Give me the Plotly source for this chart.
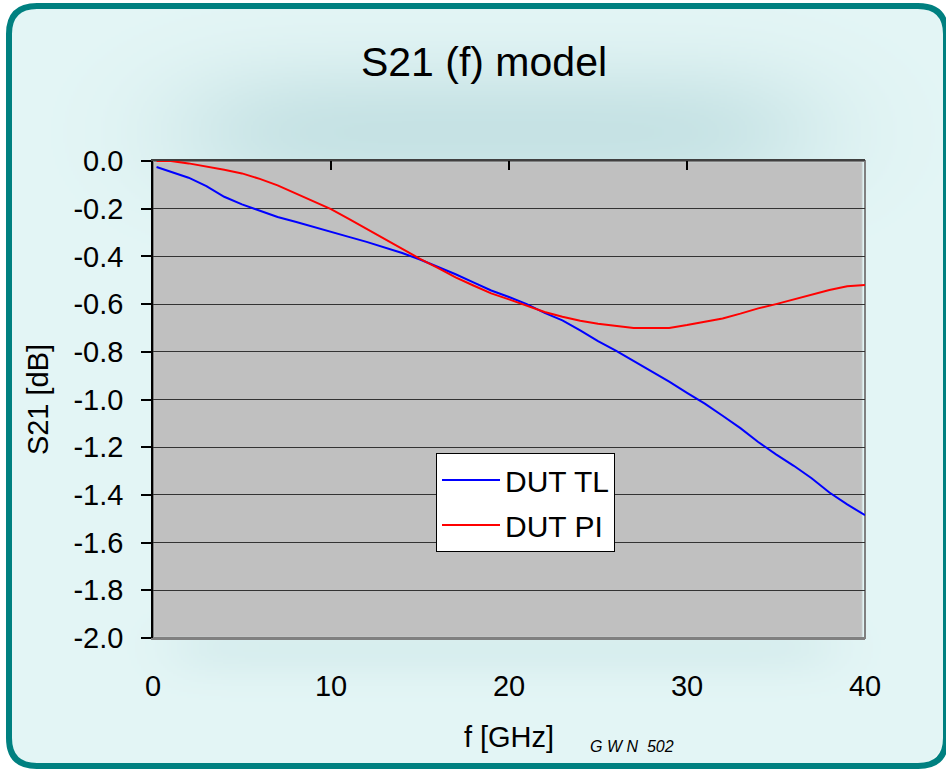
import base64
import math
import struct
import zlib

import numpy as np
import plotly.graph_objects as go

# ---- data ---------------------------------------------------------------
freq_ghz = [0.2, 1, 2, 3, 4, 5, 6, 7, 8, 9, 10, 11, 12, 13, 14, 15, 16, 17, 18, 19, 20,
            21, 22, 23, 24, 25, 26, 27, 28, 29, 30, 31, 32, 33, 34, 35, 36, 37, 38, 39, 40]

s21_tl_db = [-0.025, -0.045, -0.07, -0.105, -0.15, -0.182, -0.21, -0.235, -0.255, -0.275,
             -0.297, -0.318, -0.339, -0.362, -0.386, -0.413, -0.443, -0.475, -0.509, -0.543,
             -0.57, -0.60, -0.637, -0.668, -0.71, -0.755, -0.795, -0.838, -0.882, -0.925,
             -0.972, -1.017, -1.068, -1.12, -1.178, -1.23, -1.278, -1.33, -1.39, -1.44, -1.485]

s21_pi_db = [0.0, 0.0, -0.01, -0.022, -0.037, -0.052, -0.075, -0.102, -0.135, -0.168,
             -0.202, -0.243, -0.285, -0.325, -0.367, -0.41, -0.448, -0.488, -0.522, -0.555,
             -0.58, -0.607, -0.633, -0.653, -0.67, -0.682, -0.69, -0.70, -0.70, -0.70,
             -0.688, -0.675, -0.66, -0.64, -0.618, -0.60, -0.58, -0.56, -0.541, -0.525, -0.52]

x_tick_vals = [0, 10, 20, 30, 40]
y_tick_vals = [0.0, -0.2, -0.4, -0.6, -0.8, -1.0, -1.2, -1.4, -1.6, -1.8, -2.0]
y_tick_text = ["0.0", "-0.2", "-0.4", "-0.6", "-0.8", "-1.0", "-1.2", "-1.4", "-1.6", "-1.8", "-2.0"]

# ---- page geometry (pixels) ---------------------------------------------
W, H = 946, 769
PLOT_L, PLOT_R, PLOT_T, PLOT_B = 153, 865, 161, 638
FONT = "Liberation Sans, Arial, sans-serif"


def px(x):
    return x / W


def py(y):
    return 1 - y / H


# ---- soft tinted background with a haze behind the title ----------------
def png_data_uri(rgba):
    h, w, _ = rgba.shape
    raw = b"".join(b"\x00" + rgba[i].tobytes() for i in range(h))

    def chunk(tag, data):
        body = tag + data
        return struct.pack(">I", len(data)) + body + struct.pack(">I", zlib.crc32(body) & 0xFFFFFFFF)

    png = (b"\x89PNG\r\n\x1a\n"
           + chunk(b"IHDR", struct.pack(">IIBBBBB", w, h, 8, 6, 0, 0, 0))
           + chunk(b"IDAT", zlib.compress(raw, 9))
           + chunk(b"IEND", b""))
    return "data:image/png;base64," + base64.b64encode(png).decode()


verf = np.vectorize(math.erf)


def soft_box(c, a, b, s):
    k = s * math.sqrt(2)
    return 0.5 * (verf((c - a) / k) - verf((c - b) / k))


scale = 2
gw, gh = W // scale + 1, H // scale + 1
xs = (np.arange(gw) + 0.5) * scale
ys = (np.arange(gh) + 0.5) * scale
X, Y = np.meshgrid(xs, ys)

haze = (0.85 * soft_box(xs, 200, 800, 70)[None, :] * soft_box(ys, 85, 180, 40)[:, None]
        + 0.35 * soft_box(xs, 180, 830, 30)[None, :] * soft_box(ys, 628, 668, 18)[:, None])
haze = np.clip(haze, 0, 1)
base = np.array([227, 245, 245], float)
dark = np.array([182, 216, 219], float)
rgb = base[None, None, :] * (1 - haze[..., None]) + dark[None, None, :] * haze[..., None]

# rounded panel mask
fl, ft, fr, fb, rad = 9, 6, 946, 766, 28
cx = np.clip(X, fl + rad, fr - rad)
cy = np.clip(Y, ft + rad, fb - rad)
inside = ((X - cx) ** 2 + (Y - cy) ** 2 <= rad ** 2) & (X >= fl) & (X <= fr) & (Y >= ft) & (Y <= fb)
alpha = np.where(inside, 255, 0)
# leave the plotting area to the plot background
alpha = np.where((X > PLOT_L) & (X < PLOT_R) & (Y > PLOT_T) & (Y < PLOT_B), 0, alpha)

rgba = np.dstack([rgb, alpha]).round().astype(np.uint8)
bg_uri = png_data_uri(rgba)


# rounded frame outline
def frame_path(l, t, r, b, rr):
    pts = [
        ("M", (l + rr, t)), ("L", (r - rr, t)), ("Q", (r, t), (r, t + rr)),
        ("L", (r, b - rr)), ("Q", (r, b), (r - rr, b)), ("L", (l + rr, b)),
        ("Q", (l, b), (l, b - rr)), ("L", (l, t + rr)), ("Q", (l, t), (l + rr, t)),
    ]
    out = []
    for cmd, *ps in pts:
        out.append(cmd + " ".join(f"{px(p[0]):.5f},{py(p[1]):.5f}" for p in ps))
    return " ".join(out) + " Z"


# ---- figure -------------------------------------------------------------
fig = go.Figure()
fig.add_trace(go.Scatter(x=freq_ghz, y=s21_tl_db, mode="lines", name="DUT TL",
                         line=dict(color="#0000FF", width=2), legendgroup="tl"))
fig.add_trace(go.Scatter(x=freq_ghz, y=s21_pi_db, mode="lines", name="DUT PI",
                         line=dict(color="#FF0000", width=2), legendgroup="pi",
                         xaxis="x2"))

fig.update_layout(
    template="none",
    width=W, height=H,
    autosize=False,
    margin=dict(l=0, r=0, t=0, b=0, pad=0),
    paper_bgcolor="white",
    plot_bgcolor="#C0C0C0",
    font=dict(family=FONT, color="black", size=29),
    title=dict(text="S21 (f) model", x=px(484), xanchor="center", y=py(62), yanchor="middle",
               font=dict(family=FONT, size=41, color="black")),
    xaxis=dict(domain=[px(PLOT_L), px(PLOT_R)], range=[0, 40], tickvals=x_tick_vals,
               ticks="", showgrid=False, zeroline=False, showline=True, linecolor="#808080",
               linewidth=2, ticklabelstandoff=21, automargin=False,
               title=dict(text="f [GHz]", standoff=26, font=dict(size=29))),
    xaxis2=dict(overlaying="x", side="top", anchor="y", range=[0, 40], tickvals=x_tick_vals,
                ticks="inside", ticklen=9, tickwidth=1.5, tickcolor="black",
                showticklabels=False, showgrid=False, zeroline=False, automargin=False,
                showline=True, linecolor="#404040", linewidth=1.5),
    yaxis=dict(domain=[py(PLOT_B), py(PLOT_T)], range=[-2, 0], tickvals=y_tick_vals,
               ticktext=y_tick_text, ticks="outside", ticklen=10, tickwidth=1.5,
               tickcolor="black", showline=True, linecolor="black", linewidth=1.5,
               showgrid=True, gridcolor="#333333", gridwidth=1.3, zeroline=False,
               ticklabelstandoff=12, automargin=False,
               title=dict(text="S21 [dB]", standoff=16, font=dict(size=29))),
    legend=dict(x=px(436), y=py(453), xanchor="left", yanchor="top",
                bgcolor="white", bordercolor="black", borderwidth=1,
                font=dict(family=FONT, size=30), tracegroupgap=3, itemwidth=58),
    showlegend=True,
    images=[dict(source=bg_uri, xref="paper", yref="paper", x=0, y=1, sizex=1, sizey=1,
                 xanchor="left", yanchor="top", sizing="stretch", layer="below")],
    shapes=[
        dict(type="path", path=frame_path(fl, ft, fr, fb, rad), xref="paper", yref="paper",
             line=dict(color="#008080", width=6), layer="below"),
        dict(type="rect", xref="x domain", yref="y domain", x0=0, x1=1, y0=0, y1=1,
             line=dict(color="#808080", width=2), layer="below"),
    ],
    annotations=[
        dict(text="<i>G W N  502</i>", x=px(632), y=py(746), xref="paper", yref="paper",
             showarrow=False, xanchor="center", yanchor="middle",
             font=dict(family=FONT, size=16, color="black")),
    ],
)

fig.write_html("out.html")
